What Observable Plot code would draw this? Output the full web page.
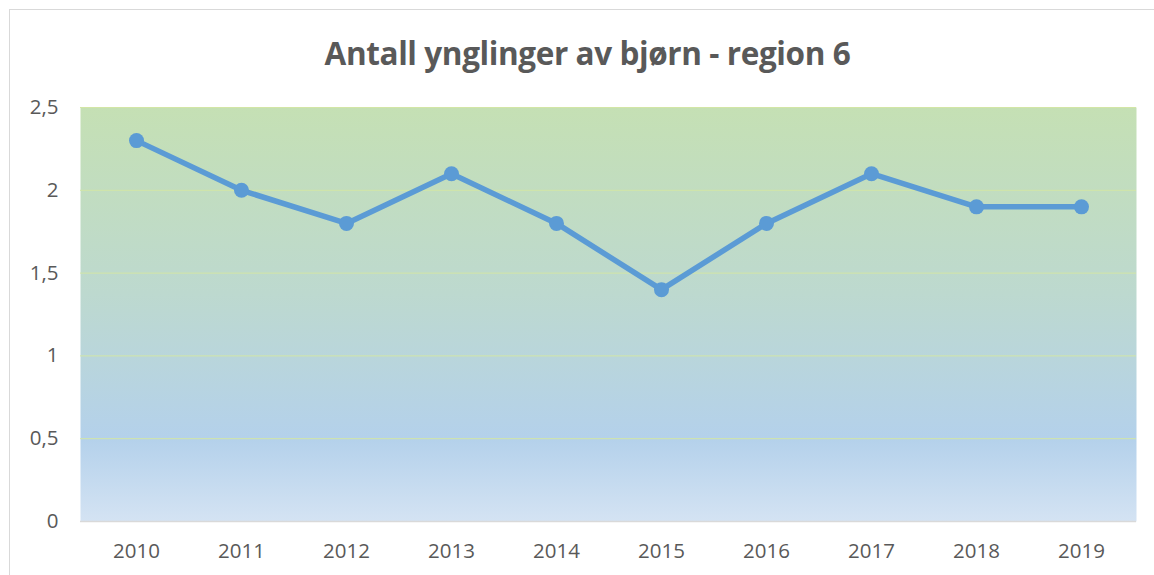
<!DOCTYPE html>
<html>
<head>
<meta charset="utf-8">
<script src="https://cdn.jsdelivr.net/npm/d3@7"></script>
<script src="https://cdn.jsdelivr.net/npm/@observablehq/plot@0.6"></script>
<style>
  html, body { margin: 0; padding: 0; background: #fff; }
  #wrap { position: relative; width: 1154px; height: 575px; overflow: hidden; background: #fff; }
  #border { position: absolute; left: 9px; top: 9px; width: 1170px; height: 600px; border: 1.5px solid #d9d9d9; box-sizing: border-box; }
  #title { position: absolute; left: 0; top: 31px; width: 1175px; text-align: center;
    font-family: "Open Sans", sans-serif; font-weight: 700; font-size: 31.5px; color: #595959; letter-spacing: -0.4px; }
  #chart { position: absolute; left: 0; top: 0; }
</style>
</head>
<body>
<div id="wrap">
  <div id="border"></div>
  <div id="title">Antall ynglinger av bjørn - region 6</div>
  <div id="chart"></div>
</div>
<script>
const years = ["2010","2011","2012","2013","2014","2015","2016","2017","2018","2019"];
const values = [2.3, 2.0, 1.8, 2.1, 1.8, 1.4, 1.8, 2.1, 1.9, 1.9];
const yTicks = [0, 0.5, 1, 1.5, 2, 2.5];

const data = years.map((y, i) => ({year: y, value: values[i]}));
const fmt = d => String(d).replace(".", ",");

const chart = Plot.plot({
  width: 1154,
  height: 575,
  marginTop: 107,
  marginBottom: 54,
  marginLeft: 80,
  marginRight: 18,
  style: { fontFamily: "Open Sans, sans-serif", fontSize: "20.5px", color: "#595959", background: "transparent" },
  x: { type: "point", domain: years, padding: 0.5, label: null, tickSize: 0, tickPadding: 22 },
  y: { domain: [0, 2.5], ticks: yTicks, tickFormat: fmt, label: null, tickSize: 0, tickPadding: 22 },
  marks: [
    Plot.frame({ fill: "url(#bgGrad)", stroke: null }),
    Plot.gridY(yTicks.filter(t => t > 0), { stroke: "#d3e6a6", strokeOpacity: 1, strokeWidth: 1 }),
    Plot.ruleY([0], { stroke: "#d9d9d9", strokeWidth: 1.5 }),
    Plot.lineY(data, { x: "year", y: "value", stroke: "#5b9bd5", strokeWidth: 5.5, curve: "linear" }),
    Plot.dot(data, { x: "year", y: "value", r: 7.5, fill: "#5b9bd5", stroke: null })
  ]
});

const ns = "http://www.w3.org/2000/svg";
const defs = document.createElementNS(ns, "defs");
defs.innerHTML = `<linearGradient id="bgGrad" x1="0" y1="0" x2="0" y2="1">
  <stop offset="0" stop-color="#c5e0b4"/>
  <stop offset="0.45" stop-color="#bdd9cf"/>
  <stop offset="0.8" stop-color="#b4d1eb"/>
  <stop offset="1" stop-color="#d4e3f3"/>
</linearGradient>`;
chart.insertBefore(defs, chart.firstChild);
document.getElementById("chart").appendChild(chart);
</script>
</body>
</html>
